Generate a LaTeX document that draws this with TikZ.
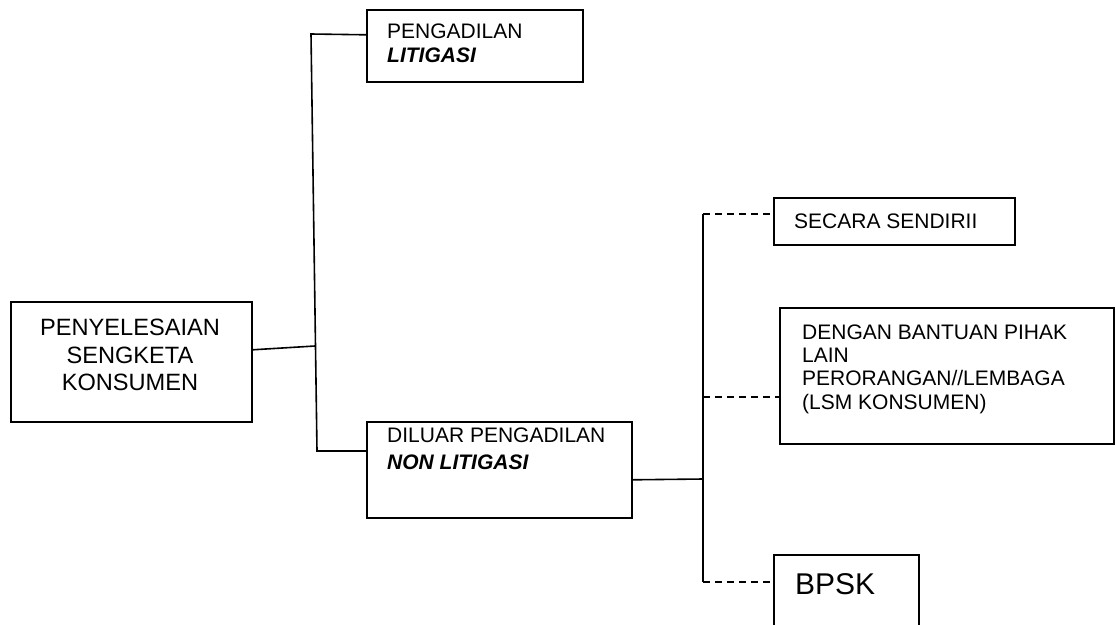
\documentclass[tikz,border=0pt]{standalone}
\usepackage{fontspec}
\setmainfont{Liberation Sans}
\begin{document}
\begin{tikzpicture}[x=1pt,y=-1pt,
  box/.style={draw=black,line width=1.6pt,rectangle,inner sep=0pt,anchor=north west},
  conn/.style={line width=1.6pt,draw=black},
  dconn/.style={line width=1.6pt,draw=black,dash pattern=on 7pt off 5pt},
  txt/.style={inner sep=0pt,anchor=base west,font=\fontsize{21}{24}\selectfont},
  bigtxt/.style={inner sep=0pt,anchor=base,font=\fontsize{23.6}{28}\selectfont},
  bi/.style={txt,font=\fontsize{21}{24}\selectfont\bfseries\itshape}]
\clip (0,0) rectangle (1116,624);
\fill[white] (0,0) rectangle (1116,624);
% boxes
\node[box,minimum width=241pt,minimum height=120pt] (A) at (10,301) {};
\node[box,minimum width=216pt,minimum height=72pt] (B) at (366,9) {};
\node[box,minimum width=265pt,minimum height=96pt] (C) at (366,421) {};
\node[box,minimum width=241pt,minimum height=47pt] (D) at (773,197) {};
\node[box,minimum width=334pt,minimum height=136pt] (E) at (779,307) {};
\node[box,minimum width=145pt,minimum height=100pt] (F) at (773,554) {};
% texts
\node[bigtxt] (a1) at (130,335.5) {PENYELESAIAN};
\node[bigtxt] (a2) at (130,363.5) {SENGKETA};
\node[bigtxt] (a3) at (130,390.5) {KONSUMEN};
\node[txt] (b1) at (387,38.5) {PENGADILAN};
\node[bi] (b2) at (387,62.5) {LITIGASI};
\node[txt] (c1) at (387,442.5) {DILUAR PENGADILAN};
\node[bi] (c2) at (387,469.5) {NON LITIGASI};
\node[txt] (d1) at (794,228.5) {SECARA SENDIRII};
\node[txt] (e1) at (802,339.5) {DENGAN BANTUAN PIHAK};
\node[txt] (e2) at (802,362.5) {LAIN};
\node[txt] (e3) at (802,385.5) {PERORANGAN//LEMBAGA};
\node[txt] (e4) at (802,409.5) {(LSM KONSUMEN)};
\node[inner sep=0pt,anchor=base west,font=\fontsize{30}{34}\selectfont] (f1) at (795,594) {BPSK};
% connector coordinates
\coordinate (j1) at (315,346);
\coordinate (v1top) at (311,34);
\coordinate (v1bot) at (317,451);
\coordinate (v2top) at (703,214);
\coordinate (v2c) at (703,479);
\coordinate (v2e) at (703,397);
\coordinate (v2bot) at (703,582);
% connectors
\draw[conn] ([yshift=12pt]A.east) -- (j1);
\draw[conn] ([yshift=11pt]B.west) -- (v1top) -- (v1bot) -- (C.west |- v1bot);
\draw[conn] ([yshift=-10pt]C.east) -- (v2c);
\draw[conn] (v2top) -- (v2bot);
\draw[dconn] (v2top) -- (D.west |- v2top);
\draw[dconn] (v2e) -- (E.west |- v2e);
\draw[dconn] (v2bot) -- (F.west |- v2bot);
\end{tikzpicture}
\end{document}
